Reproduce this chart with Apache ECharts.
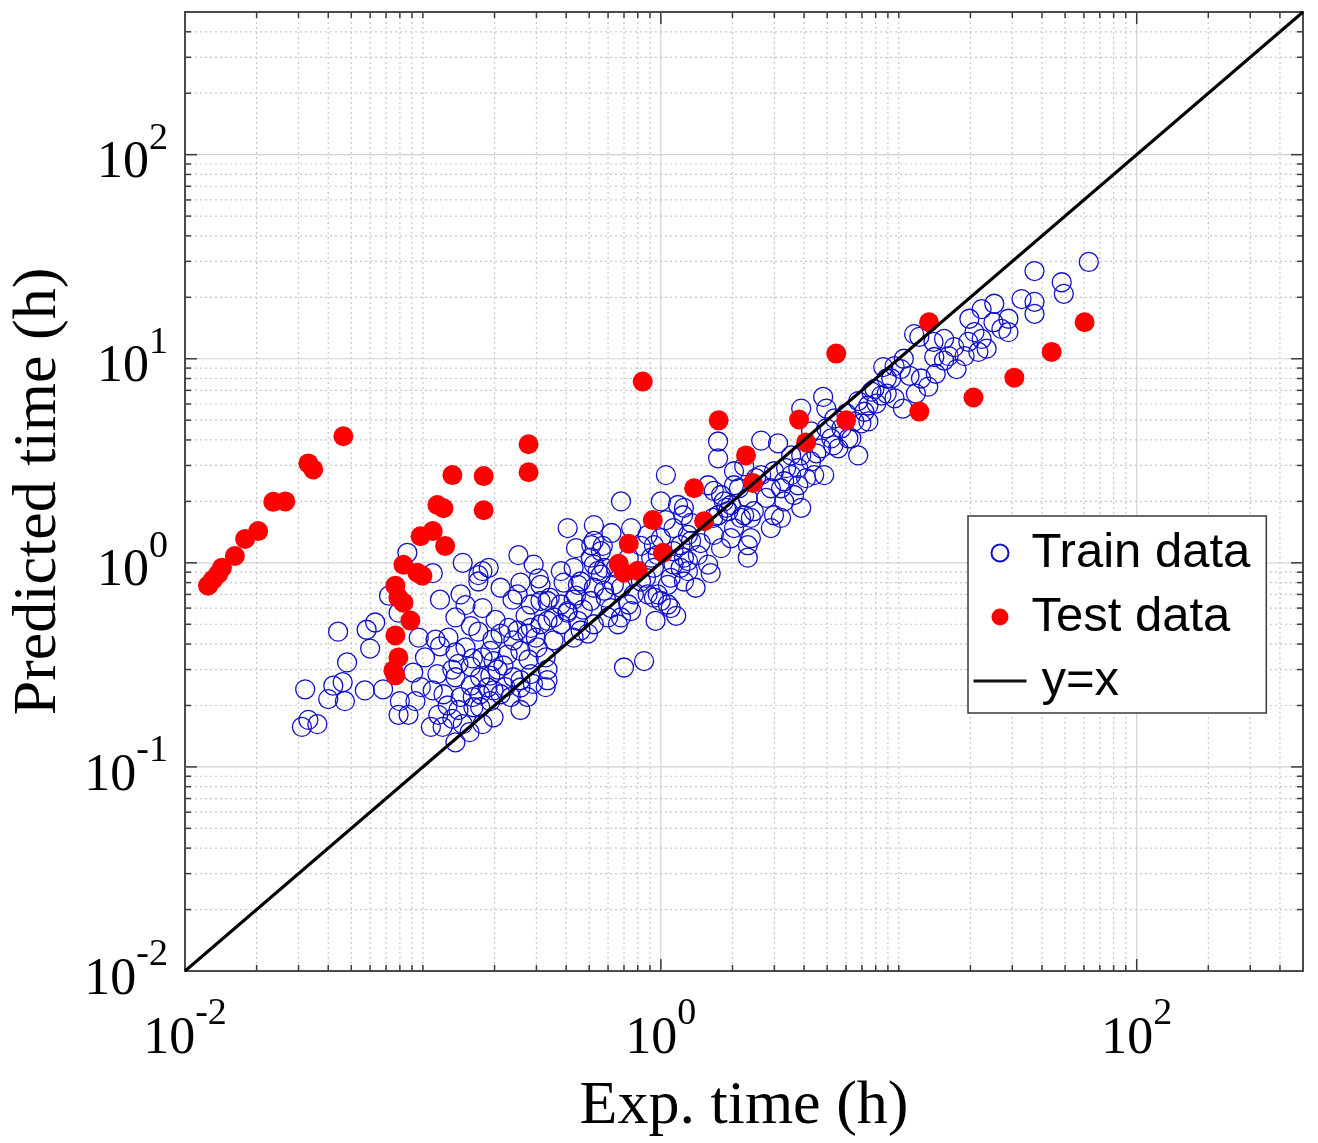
<!DOCTYPE html>
<html>
<head>
<meta charset="utf-8">
<script src="https://cdn.jsdelivr.net/npm/echarts@6/dist/echarts.min.js"></script>
<style>
  html, body { margin: 0; padding: 0; background: #fff; }
  #chart { width: 1318px; height: 1143px; }
</style>
</head>
<body>
<div id="chart"></div>
<script>
// Training samples: [experimental time (h), predicted time (h)]
const trainPoints = [
  [0.147,1.0],[0.11,0.89],[0.171,0.87],[0.072,0.69],[0.118,0.66],[0.144,0.70],[0.151,0.62],[0.178,0.60],
  [0.044,0.46],[0.058,0.47],[0.063,0.51],[0.079,0.57],[0.060,0.38],[0.096,0.43],[0.113,0.42],[0.118,0.39],
  [0.151,0.385],[0.171,0.46],[0.048,0.325],[0.091,0.29],[0.133,0.30],[0.141,0.32],[0.162,0.34],[0.137,0.275],
  [0.032,0.24],[0.042,0.25],[0.046,0.26],[0.057,0.237],[0.068,0.24],[0.040,0.215],[0.047,0.21],[0.080,0.21],
  [0.093,0.21],[0.11,0.237],[0.122,0.227],[0.079,0.18],[0.087,0.18],[0.116,0.18],[0.141,0.19],[0.162,0.22],
  [0.033,0.17],[0.031,0.157],[0.036,0.162],[0.121,0.157],[0.147,0.162],
  [0.086,1.12],[0.178,0.91],[0.189,0.945],[0.252,1.09],[0.292,0.98],[0.312,0.78],[0.171,0.81],[0.238,0.66],
  [0.284,0.625],[0.334,0.65],[0.196,0.42],[0.212,0.45],[0.24,0.417],[0.275,0.45],[0.312,0.50],[0.354,0.54],
  [0.159,0.31],[0.192,0.37],[0.227,0.355],[0.257,0.37],[0.303,0.385],[0.174,0.275],[0.206,0.30],[0.24,0.275],
  [0.284,0.285],[0.334,0.30],[0.127,0.20],[0.174,0.227],[0.198,0.237],[0.234,0.22],[0.275,0.22],
  [1.05,2.69],[0.68,2.0],[1.0,2.0],[1.18,1.92],[0.406,1.48],[0.523,1.53],[0.75,1.48],[0.88,1.37],
  [1.13,1.48],[1.30,1.37],[0.51,1.22],[0.57,1.21],[0.935,1.22],[1.21,1.22],[0.38,0.91],[0.43,0.945],
  [0.523,0.98],[0.56,0.875],[0.935,0.945],[1.13,0.98],[1.30,1.02],[0.307,0.84],[0.39,0.80],[0.46,0.81],
  [0.523,0.755],[0.635,0.78],[0.825,0.81],[1.07,0.78],[1.25,0.81],[0.25,0.70],[0.312,0.65],[0.38,0.625],
  [0.43,0.66],[0.508,0.65],[0.617,0.60],[0.73,0.625],[0.935,0.675],[1.0,0.65],[1.10,0.60],[0.25,0.466],
  [0.284,0.48],[0.334,0.52],[0.38,0.50],[0.448,0.52],[0.523,0.50],[0.60,0.54],[0.68,0.54],[0.75,0.58],
  [0.198,0.33],[0.354,0.417],[0.43,0.43],[0.494,0.45],[0.115,0.285],[0.187,0.245],[0.212,0.227],[0.257,0.245],
  [0.29,0.255],[0.163,0.196],[0.192,0.21],[0.108,0.157],[0.70,0.307],[0.85,0.33],
  [0.543,0.91],[0.577,0.73],[0.97,0.70],[1.07,0.625],[0.334,0.266],[0.257,0.19],[0.198,0.175],[0.178,0.162],
  [4.81,6.5],[3.89,5.7],[2.64,3.97],[3.11,3.85],[1.74,3.93],[1.74,3.25],[2.03,2.81],[2.24,2.97],
  [3.53,3.36],[4.28,3.14],[4.86,2.69],[2.99,2.81],[1.79,2.15],[2.32,2.08],[2.90,2.32],[3.63,2.15],
  [3.89,1.86],[1.24,1.71],[1.92,1.79],[2.46,1.79],[3.20,1.66],[0.523,1.28],[0.56,1.14],[1.67,1.37],
  [2.03,1.48],[2.32,1.22],[1.79,1.18],[1.43,1.09],[1.13,1.14],[0.91,1.06],[0.577,0.945],[1.30,0.91],
  [1.58,0.98],[1.10,0.844],[0.88,0.70],[0.448,0.78],[0.406,0.58],[0.46,0.466],[0.66,0.50],
  [4.28,4.41],[4.96,4.56],[5.31,3.76],[3.53,2.69],[4.41,2.69],[3.20,2.32],[3.30,2.0],[2.99,1.71],
  [2.90,1.48],[2.39,1.66],[2.39,1.32],[1.97,1.32],[2.32,1.06],[1.25,1.86],[1.84,2.0],[1.58,2.40],
  [1.34,1.28],[1.62,0.89],[1.21,0.945],[0.97,1.09],
  [11.6,13.2],[14.0,12.1],[15.5,12.5],[17.1,11.4],[19.6,12.1],[19.8,15.7],[20.8,13.5],[14.1,10.2],
  [16.2,10.3],[18.9,10.3],[21.6,10.8],[8.6,9.1],[10.2,8.9],[11.1,8.25],[12.4,8.0],[13.3,7.3],
  [8.9,8.0],[7.9,7.1],[8.45,6.6],[9.6,6.4],[10.4,5.7],[6.75,6.2],[7.17,5.5],[7.45,4.93],
  [6.5,4.93],[5.74,4.56],[6.14,4.07],[6.75,3.36],[5.57,3.64],[4.96,5.7],[5.36,5.1],[4.72,3.64],
  [3.89,3.36],[3.78,2.91],[2.64,2.69],[3.30,2.51],[3.78,2.40],[2.24,1.71],[1.97,1.92],[2.03,2.40],
  [1.74,1.71],[1.67,2.25],
  [62.9,29.8],[37.2,26.9],[48.4,23.7],[49.4,20.8],[37.2,19.0],[37.2,16.6],[25.2,18.6],[22.3,17.5],
  [25.0,15.1],[28.9,15.7],[28.9,13.5],[22.3,12.5],[15.5,9.8],[12.2,12.8],[10.5,10.0],[9.6,9.2],
  [7.67,6.9],[7.45,5.9],
  [0.128,0.43],[0.159,0.49],[0.202,0.525],[0.229,0.48],[0.27,0.55],[0.137,0.364],[0.178,0.344],[0.218,0.314],
  [0.278,0.336],[0.328,0.344],[0.159,0.25],[0.192,0.28],[0.222,0.246],[0.257,0.266],[0.328,0.246],[0.144,0.22],
  [0.174,0.196],[0.133,0.172],[0.157,0.148],[0.137,0.132],[0.298,0.43],[0.405,0.57],[0.47,0.59],[0.341,0.675],
  [0.44,0.69],[0.212,0.755],[0.257,0.80],[0.137,0.54],[0.102,0.344],[0.098,0.246],
  [0.587,0.675],[0.68,0.755],[0.77,0.70],[0.866,0.844],[0.647,0.945],[0.733,1.06],[0.825,1.21],[1.0,1.32],
  [1.05,1.62],[1.34,1.57],[1.47,1.25],[1.25,1.06],[1.40,0.755],[1.16,0.55],[0.95,0.52],[0.508,1.06],
  [0.44,1.18],[0.62,1.40],
  [1.66,1.66],[1.88,1.86],[2.17,1.66],[2.13,2.32],[2.51,2.60],[2.77,2.08],[3.36,2.91],[4.08,2.60],
  [4.50,3.44],[5.2,4.07],[6.02,5.39],[6.32,4.07],[6.96,4.82],[8.05,6.03],[8.9,6.75],[9.3,8.0],
  [11.8,6.75],[14.3,8.44],[17.5,8.9],[23.4,11.2],[27,14.0],[32.8,19.6]
];

// Test samples: [experimental time (h), predicted time (h)]
const testPoints = [
  [0.0125,0.773],[0.0131,0.826],[0.0138,0.883],[0.0143,0.946],[0.0162,1.08],[0.0179,1.31],[0.0203,1.43],
  [0.0235,1.99],[0.0264,2.00],[0.0330,3.07],[0.0346,2.87],[0.0463,4.17],
  [0.0766,0.441],[0.0789,0.344],[0.0751,0.297],[0.0766,0.281],[0.0886,0.521],[0.0766,0.773],[0.0789,0.675],
  [0.0828,0.638],[0.0828,0.978],[0.0948,0.894],[0.0995,0.864],[0.0977,1.35],[0.110,1.43],[0.124,1.21],
  [0.115,1.92],[0.122,1.85],[0.133,2.69],[0.180,2.66],[0.180,1.81],[0.278,3.81],[0.278,2.78],
  [0.839,7.73],[0.665,0.989],[0.699,0.894],[0.800,0.914],[0.733,1.24],[1.02,1.12],[0.925,1.62],
  [1.38,2.32],[1.52,1.60],[1.75,4.99],[2.28,3.36],[2.44,2.46],[3.81,5.04],[4.08,3.89],[5.46,10.6],
  [6.01,4.99],[12.2,5.51],[13.4,15.1],[20.6,6.46],[30.6,8.08],[43.9,10.8],[60.4,15.1]
];

// Reference line y = x across the whole axis range
const axisRange = [0.01, 500];
const identityLine = [[axisRange[0], axisRange[0]], [axisRange[1], axisRange[1]]];

// Decades shown on the axes and which of them carry labels
const decadeExponents = [-2, -1, 0, 1, 2];
const xLabelExponents = [-2, 0, 2];
const yLabelExponents = [-2, -1, 0, 1, 2];

const SERIF = "'Liberation Serif', 'Times New Roman', serif";
const SANS = "'Liberation Sans', Arial, sans-serif";

// Grid / tick positions: every m * 10^k inside the range; labelled decades are major
function gridValues(majorExps) {
  const out = [];
  decadeExponents.forEach(function (k) {
    for (let m = 1; m <= 9; m++) {
      const v = +(m * Math.pow(10, k)).toPrecision(6);
      if (v <= axisRange[0] || v >= axisRange[1]) continue;
      out.push([v, m === 1 && majorExps.indexOf(k) >= 0 ? 1 : 0]);
    }
  });
  return out;
}
const xGridData = gridValues(xLabelExponents).map(function (d) { return [d[0], 1, d[1]]; });
const yGridData = gridValues(yLabelExponents).map(function (d) { return [1, d[0], d[1]]; });

const majorGridStyle = { stroke: '#d2d2d2', lineWidth: 1.2 };
const minorGridStyle = { stroke: '#c8c8c8', lineWidth: 1.2, lineDash: [2, 3] };
const tickStyle = { stroke: '#3c3c3c', lineWidth: 1.5 };

function gridRenderer(vertical) {
  return function (params, api) {
    const cs = params.coordSys;
    const major = api.value(2) === 1;
    const len = major ? 12 : 6;
    const style = major ? majorGridStyle : minorGridStyle;
    if (vertical) {
      const x = api.coord([api.value(0), 1])[0];
      const top = cs.y, bottom = cs.y + cs.height;
      return { type: 'group', children: [
        { type: 'line', shape: { x1: x, y1: top, x2: x, y2: bottom }, style: style },
        { type: 'line', shape: { x1: x, y1: bottom, x2: x, y2: bottom - len }, style: tickStyle },
        { type: 'line', shape: { x1: x, y1: top, x2: x, y2: top + len }, style: tickStyle }
      ]};
    }
    const y = api.coord([1, api.value(1)])[1];
    const left = cs.x, right = cs.x + cs.width;
    return { type: 'group', children: [
      { type: 'line', shape: { x1: left, y1: y, x2: right, y2: y }, style: style },
      { type: 'line', shape: { x1: left, y1: y, x2: left + len, y2: y }, style: tickStyle },
      { type: 'line', shape: { x1: right, y1: y, x2: right - len, y2: y }, style: tickStyle }
    ]};
  };
}

function powerLabel(allowed) {
  return function (value) {
    const e = Math.log10(value);
    const k = Math.round(e);
    if (Math.abs(e - k) > 1e-6 || allowed.indexOf(k) < 0) return '';
    return '{b|10}{s|' + (k < 0 ? '-' + (-k) : k) + '}';
  };
}

const labelRich = {
  b: { fontFamily: SERIF, fontSize: 52, lineHeight: 70, verticalAlign: 'bottom', color: '#000' },
  s: { fontFamily: SERIF, fontSize: 38, verticalAlign: 'top', color: '#000' }
};

const chart = echarts.init(document.getElementById('chart'), null, { renderer: 'canvas' });

chart.setOption({
  animation: false,
  backgroundColor: '#fff',
  textStyle: { fontFamily: SERIF },
  grid: {
    left: 185, top: 12, right: 15, bottom: 168,
    show: true, borderColor: '#4a4a4a', borderWidth: 2, backgroundColor: 'transparent'
  },
  xAxis: {
    type: 'log', logBase: 10, min: axisRange[0], max: axisRange[1],
    name: 'Exp. time (h)', nameLocation: 'middle', nameGap: 105,
    nameTextStyle: { fontFamily: SERIF, fontSize: 62, color: '#000' },
    axisLine: { show: false }, axisTick: { show: false }, splitLine: { show: false },
    axisLabel: { formatter: powerLabel(xLabelExponents), rich: labelRich, margin: 24, showMinLabel: true, showMaxLabel: false }
  },
  yAxis: {
    type: 'log', logBase: 10, min: axisRange[0], max: axisRange[1],
    name: 'Predicted time (h)', nameLocation: 'middle', nameGap: 115,
    nameTextStyle: { fontFamily: SERIF, fontSize: 62, color: '#000' },
    axisLine: { show: false }, axisTick: { show: false }, splitLine: { show: false },
    axisLabel: { formatter: powerLabel(yLabelExponents), rich: labelRich, margin: 17, showMinLabel: true, showMaxLabel: false }
  },
  legend: {
    orient: 'vertical', left: 968, top: 516,
    data: [
      { name: 'Train data' },
      { name: 'Test data' },
      { name: 'y=x', itemStyle: { opacity: 0 }, lineStyle: { width: 3, color: '#111' },
        textStyle: { padding: [0, 0, 0, 10] } }
    ],
    itemWidth: 53, itemHeight: 17, itemGap: 14,
    padding: [12, 16, 7, 4],
    backgroundColor: '#fff', borderColor: '#3a3a3a', borderWidth: 1.5, borderRadius: 0,
    selectedMode: false,
    textStyle: { fontFamily: SANS, fontSize: 49, lineHeight: 50, color: '#000' }
  },
  series: [
    { name: 'xGrid', type: 'custom', renderItem: gridRenderer(true), data: xGridData, silent: true, z: 1 },
    { name: 'yGrid', type: 'custom', renderItem: gridRenderer(false), data: yGridData, silent: true, z: 1 },
    {
      name: 'Train data', type: 'scatter', data: trainPoints, symbol: 'circle', symbolSize: 19, z: 3, silent: true,
      itemStyle: { color: 'rgba(0,0,0,0)', borderColor: '#1010c8', borderWidth: 1.3, opacity: 1 }
    },
    {
      name: 'Test data', type: 'scatter', data: testPoints, symbol: 'circle', symbolSize: 20, z: 4, silent: true,
      itemStyle: { color: '#ff0000', opacity: 1 }
    },
    {
      name: 'y=x', type: 'line', data: identityLine, symbol: 'none', z: 5, silent: true,
      lineStyle: { color: '#000', width: 3 }
    }
  ]
});
</script>
</body>
</html>
